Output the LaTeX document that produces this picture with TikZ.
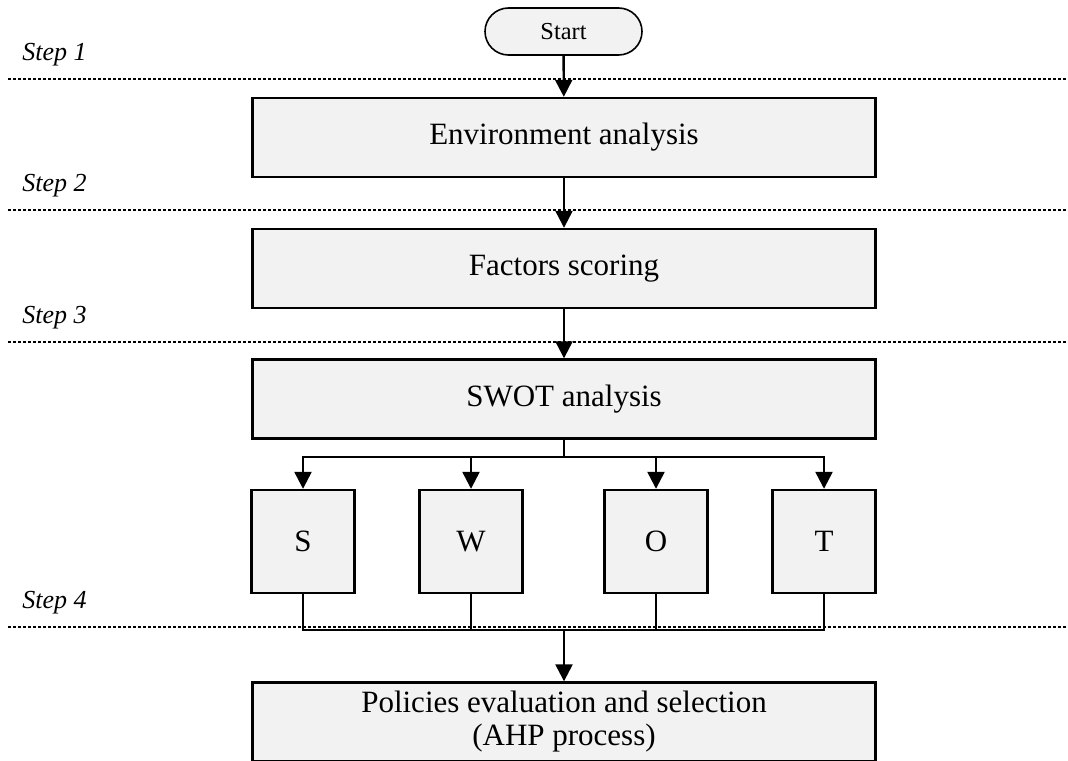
\documentclass[tikz,border=0pt]{standalone}
\usepackage{fontspec}
\setmainfont{Liberation Serif}
\usetikzlibrary{arrows.meta}
\definecolor{boxgray}{HTML}{F2F2F2}
\begin{document}
\begin{tikzpicture}[x=0.5pt,y=-0.5pt,
  box/.style={draw, line width=1.2pt, fill=boxgray, inner sep=0pt,
    minimum width=311.5pt, minimum height=39.5pt,
    font=\fontsize{15.5}{16.5}\selectfont, align=center},
  letterbox/.style={box, minimum width=51.5pt, minimum height=51.5pt},
  startbox/.style={draw, line width=0.8pt, fill=boxgray, rounded corners=11.75pt,
    minimum width=78.5pt, minimum height=23.5pt, inner sep=0pt,
    font=\fontsize{12.2}{14}\selectfont},
  arr/.style={line width=1.2pt, -{Triangle[length=8.5pt,width=8.5pt]}},
  joint/.style={line width=0.7pt},
  stepline/.style={line width=0.75pt, dash pattern=on 1.5pt off 1pt},
  steplabel/.style={anchor=base west, inner sep=0pt,
    font=\fontsize{13}{15}\selectfont\itshape}
]
\fill[white] (0,0) rectangle (1068,760);
\useasboundingbox (0,0) rectangle (1068,760);

% phase separators and their labels
\foreach \yy/\lab in {79/1, 210/2, 342/3, 627/4} {
  \coordinate (sepL\lab) at (8,\yy);
  \coordinate (sepR\lab) at (1068,\yy);
  \draw[stepline] (sepL\lab) -- (sepR\lab);
  \node[steplabel] (step\lab) at (22,\yy-19) {Step \lab};
}

% main flow
\node[startbox] (start) at (563.5,31.5) {Start};
\node[box] (env) at (564,137.5) {Environment analysis};
\node[box] (fac) at (564,268.5) {Factors scoring};
\node[box] (swot) at (564,399) {SWOT analysis};

\node[letterbox] (S) at (303,541.5) {S};
\node[letterbox] (W) at (471,541.5) {W};
\node[letterbox] (O) at (656,541.5) {O};
\node[letterbox] (T) at (824,541.5) {T};

\node[box] (pol) at (564,722) {Policies evaluation and selection\\(AHP process)};

\coordinate (split) at (564,457);
\coordinate (merge) at (564,630);

\draw[arr] (start) -- (env);
\draw[arr] (env) -- (fac);
\draw[arr] (fac) -- (swot);

\draw[line width=1.2pt] (swot.south) -- (split);
\foreach \n in {S,W,O,T}
  \draw[arr] (split) -| (\n.north);

\foreach \n in {S,W,O,T}
  \draw[joint] (\n.south) |- (merge);
\draw[arr] (merge) -- (pol.north);
\end{tikzpicture}
\end{document}
